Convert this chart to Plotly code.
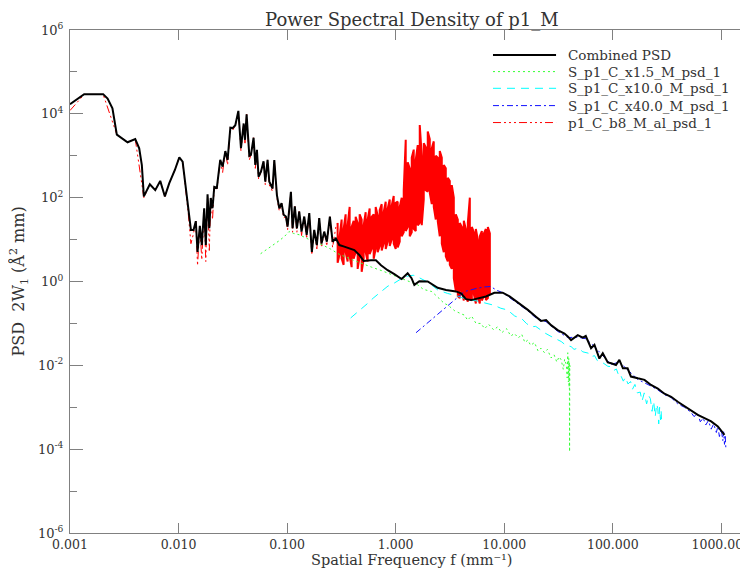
import plotly.graph_objects as go

# ---- data (frequency in mm^-1, PSD in A^2 mm) ----
comb_f = [0.001, 0.00135, 0.00202, 0.00222, 0.00246, 0.0027, 0.00339, 0.00399, 0.00434, 0.00459,
          0.00479, 0.00544, 0.0061, 0.00678, 0.00748, 0.0082, 0.00925, 0.01016, 0.0109, 0.01167,
          0.01228, 0.0130, 0.01374, 0.01442, 0.01496, 0.0157, 0.01637, 0.01722, 0.01782, 0.0185,
          0.0192, 0.0198, 0.02056, 0.02133, 0.02254, 0.0242, 0.02547, 0.02698, 0.02831, 0.0300,
          0.03148, 0.03334, 0.03556, 0.03758, 0.03981, 0.04093, 0.04236, 0.04487, 0.04645, 0.04911,
          0.05093, 0.05272, 0.05458, 0.05741, 0.06067, 0.06295, 0.06607, 0.06855, 0.07345, 0.07621,
          0.08054, 0.08472, 0.08892, 0.09289, 0.0975, 0.101, 0.1084, 0.1122, 0.1178, 0.123,
          0.1294, 0.1358, 0.1439, 0.1514, 0.160, 0.169, 0.1778, 0.1879, 0.1977, 0.2075,
          0.2198, 0.2323, 0.2477, 0.2624, 0.2812, 0.3027, 0.3365, 0.3741, 0.4159, 0.4624,
          0.507, 0.5916, 0.6577, 0.7328, 0.8433, 0.9727, 1.135, 1.29, 1.40, 1.486,
          1.652, 1.972, 2.438, 2.911, 3.597, 4.0, 4.446, 4.943, 5.70, 6.79,
          8.11, 9.68, 11.2, 13.8, 16.5, 19.6, 21.8, 24.3, 27.0, 31.1,
          35.9, 38.5, 41.3, 47.6, 53.0, 56.4, 63.1, 67.8, 75.3, 80.9,
          90.0, 96.6, 107, 115, 124, 137, 147, 170, 196, 225,
          260, 299, 345, 397, 458, 527, 607, 700, 806, 929,
          1032, 1069]
comb_psd = [1.7e4, 2.95e4, 2.95e4, 2.3e4, 1.35e4, 3.2e3, 2.1e3, 2.5e3, 1.5e3, 600,
            107, 209, 151, 251, 107, 219, 457, 912, 724, 166,
            42.7, 17, 17, 27.5, 5.1, 21.4, 7.4, 56, 7.4, 120,
            18.6, 98, 56, 182, 174, 794, 550, 1290, 794, 4680,
            4570, 5370, 11750, 1510, 5890, 2400, 9770, 1000, 1050, 2690,
            603, 1380, 316, 417, 741, 240, 794, 240, 166, 794,
            115, 56, 74, 39, 35.5, 20.4, 138, 18.6, 61.7, 18.6,
            46.8, 15.5, 35.5, 12.9, 42.7, 5.1, 17, 7.4, 32.4, 8.1,
            15.5, 8.9, 35.5, 8.9, 10.7, 7.4, 6.8, 6.2, 5.6, 4.3,
            3.1, 3.2, 3.2, 2.45, 1.86, 1.5, 1.15, 1.58, 1.2, 0.83,
            1.02, 1.0, 0.71, 0.63, 0.58, 0.52, 0.38, 0.36, 0.40, 0.44,
            0.54, 0.54, 0.44, 0.30, 0.21, 0.145, 0.115, 0.12, 0.091, 0.069,
            0.0575, 0.049, 0.040, 0.0525, 0.0457, 0.050, 0.0257, 0.031, 0.0145, 0.0195,
            0.0117, 0.0112, 0.0102, 0.0135, 0.0085, 0.0085, 0.0054, 0.0049, 0.0045, 0.0034,
            0.0028, 0.0021, 0.00178, 0.00135, 0.00105, 0.00081, 0.00066, 0.00055, 0.00046, 0.00035,
            0.00025, 0.00022]

x15_f = [0.057, 0.065, 0.075, 0.085, 0.095, 0.104, 0.115, 0.13, 0.16, 0.2,
         0.25, 0.3, 0.4, 0.5, 0.6, 0.75, 0.9, 1.1, 1.3, 1.45,
         1.6, 1.8, 2.0, 2.15, 2.5, 2.8, 3.02, 3.5, 4.0, 4.3,
         4.6, 5.0, 5.5, 6.1, 6.6, 7.2, 8.0, 8.7, 9.5, 10.5,
         11.5, 12.4, 13.5, 14.5, 15.5, 16.5, 17.5, 19, 20.5, 21.8,
         23.5, 25, 27, 28.8, 30.5, 32, 33.5, 35, 36, 37.4,
         38, 38.5, 39, 39.3, 39.6, 39.8, 40.0, 40.2, 40.5, 40.8]
x15_psd = [4.6, 5.8, 7.4, 9.5, 12, 15.5, 14, 13, 10, 8,
           6, 4.5, 3.3, 2.6, 2.2, 1.8, 1.5, 1.2, 1.0, 0.9,
           0.83, 0.65, 0.6, 0.575, 0.4, 0.3, 0.275, 0.2, 0.17, 0.158,
           0.12, 0.15, 0.1, 0.1, 0.075, 0.095, 0.07, 0.083, 0.06, 0.075,
           0.05, 0.0575, 0.045, 0.055, 0.035, 0.040, 0.03, 0.035, 0.022, 0.0257,
           0.02, 0.024, 0.015, 0.0178, 0.012, 0.016, 0.0135, 0.008, 0.014, 0.0102,
           0.005, 0.02, 0.004, 0.015, 0.003, 0.012, 8.7e-5, 0.01, 0.0035, 0.008]

x10_f = [0.385, 0.45, 0.497, 0.56, 0.62, 0.70, 0.78, 0.85, 0.92, 1.0,
         1.1, 1.2, 1.3, 1.45, 1.55, 1.65, 1.8, 2.0, 2.44, 3.0,
         3.7, 4.5, 5.7, 6.8, 8.1, 9.3, 10.7, 12.5, 14.5, 16,
         17.7, 19.5, 21.8, 24, 27, 30, 33.5, 37, 41.3, 44,
         48, 53, 59.6, 63, 68, 72, 77.8, 83, 90, 96,
         102, 108, 114, 118, 125, 131, 138, 146, 152, 160,
         168, 179, 186, 195, 205, 214, 222, 230, 238, 246,
         254, 260, 265, 270, 275, 279, 283]
x10_psd = [0.135, 0.19, 0.23, 0.31, 0.40, 0.52, 0.66, 0.78, 0.84, 0.98,
           1.12, 1.26, 1.35, 1.41, 1.35, 1.23, 1.1, 0.95, 0.63, 0.52,
           0.45, 0.38, 0.34, 0.30, 0.27, 0.23, 0.21, 0.15, 0.13, 0.10,
           0.083, 0.085, 0.069, 0.058, 0.049, 0.043, 0.037, 0.03, 0.028, 0.024,
           0.026, 0.021, 0.0195, 0.016, 0.017, 0.013, 0.0123, 0.011, 0.0095, 0.0093,
           0.0075, 0.0082, 0.0055, 0.0059, 0.0042, 0.0052, 0.0036, 0.0041, 0.0027, 0.0035,
           0.0022, 0.0023, 0.0014, 0.0022, 0.0012, 0.0019, 0.0016, 0.0008, 0.0014, 0.0006,
           0.0012, 0.00093, 0.0004, 0.001, 0.0005, 0.0008, 0.00038]

x40_f = [1.54, 2.0, 2.5, 3.0, 3.6, 4.3, 5.5, 6.5, 7.5, 8.5,
         9.7, 11.2, 13.8, 16.5, 19.6, 24.3, 31, 38.5, 47.6, 56.4,
         67.8, 80.9, 96.6, 115, 137, 170, 225, 260, 299, 345,
         397, 458, 527, 560, 607, 640, 680, 720, 760, 806,
         850, 900, 929, 960, 1000, 1032, 1050, 1069, 1085, 1100]
x40_psd = [0.060, 0.107, 0.175, 0.26, 0.39, 0.575, 0.68, 0.74, 0.76, 0.62,
           0.54, 0.42, 0.28, 0.2, 0.135, 0.11, 0.065, 0.046, 0.047, 0.043,
           0.028, 0.017, 0.0105, 0.012, 0.0078, 0.0046, 0.0032, 0.0026, 0.002, 0.0017,
           0.0012, 0.001, 0.00075, 0.0006, 0.0007, 0.00045, 0.00055, 0.00038, 0.00048, 0.0003,
           0.0004, 0.00025, 0.00035, 0.0002, 0.0003, 0.00016, 0.00026, 0.00013, 0.00022, 0.00011]

b8_f = [0.001, 0.00135, 0.00202, 0.0027, 0.00339, 0.00399, 0.00479, 0.00544, 0.0061, 0.00678,
        0.00748, 0.0082, 0.00925, 0.01016, 0.0109, 0.01167, 0.01228, 0.0130, 0.01374, 0.01442,
        0.01496, 0.0157, 0.01637, 0.01722, 0.01782, 0.0185, 0.0192, 0.0198, 0.02056, 0.02133,
        0.02254, 0.0242, 0.02547, 0.02698, 0.02831, 0.0300, 0.03148, 0.03334, 0.03556, 0.03758,
        0.03981, 0.04093, 0.04236, 0.04487, 0.04645, 0.04911, 0.05093, 0.05272, 0.05458, 0.05741,
        0.06067, 0.06295, 0.06607, 0.06855, 0.07345, 0.07621, 0.08054, 0.08472, 0.08892, 0.09289,
        0.0975, 0.101, 0.1084, 0.1122, 0.1178, 0.123, 0.1294, 0.1358, 0.1439, 0.1514,
        0.160, 0.169, 0.1778, 0.1879, 0.1977, 0.2075, 0.2198, 0.2323, 0.2477, 0.2624,
        0.2812]
b8_psd = [1.2e4, 2.9e4, 2.9e4, 3.2e3, 2.1e3, 2.5e3, 100, 209, 151, 251,
          107, 219, 457, 912, 724, 166, 42.7, 8.0, 14, 27.5,
          2.4, 21, 3.3, 50, 3.0, 110, 5.5, 98, 30, 182,
          150, 794, 400, 1290, 600, 4680, 4000, 5370, 11750, 1300,
          5890, 2000, 9770, 800, 1050, 2690, 500, 1380, 280, 417,
          741, 200, 794, 200, 140, 794, 100, 48, 74, 33,
          35.5, 17, 138, 15, 61.7, 15, 46.8, 12.5, 35.5, 10.5,
          42.7, 4.3, 17, 6.0, 32.4, 6.5, 15.5, 7.0, 35.5, 6.5,
          20]

# noisy part of p1_C_b8: upper / lower extent of the scatter at each frequency
band_f = [0.292, 0.3047, 0.3179, 0.3317, 0.3461, 0.3611, 0.3768, 0.3931, 0.4102, 0.4280,
          0.4466, 0.4660, 0.4862, 0.5073, 0.5293, 0.5523, 0.5762, 0.6012, 0.6273, 0.6546,
          0.6830, 0.7126, 0.7435, 0.7758, 0.8095, 0.8446, 0.8813, 0.9195, 0.9594, 1.0011,
          1.0445, 1.0899, 1.1372, 1.1866, 1.2381, 1.2918, 1.3479, 1.4064, 1.4674, 1.5311,
          1.5976, 1.6669, 1.7393, 1.8148, 1.8936, 1.9757, 2.0615, 2.1510, 2.2443, 2.3418,
          2.4434, 2.5495, 2.6601, 2.7756, 2.8961, 3.0218, 3.1529, 3.2898, 3.4326, 3.5815,
          3.7370, 3.8992, 4.0684, 4.2450, 4.4293, 4.6215, 4.8221, 5.0314, 5.2498, 5.4777,
          5.7154, 5.9635, 6.2223, 6.4924, 6.7742, 7.0682, 7.3750]
band_hi = [25, 12, 30, 18, 40, 22, 60, 20, 28, 35,
           25, 40, 30, 22, 45, 30, 55, 35, 40, 60,
           38, 50, 70, 45, 80, 55, 90, 65, 110, 75,
           80, 60, 100, 150, 2400, 700, 500, 900, 1400, 800,
           1800, 5400, 1000, 2000, 1600, 3800, 2500, 1500, 2200, 1000,
           900, 1300, 900, 600, 500, 300, 250, 200, 100, 40,
           30, 25, 20, 28, 18, 25, 100, 20, 15, 18,
           10, 12, 16, 14, 18, 20, 14]
band_lo = [2.8, 4.5, 3.5, 2.5, 5, 3, 4, 2.2, 3.5, 5,
           2.0, 4, 1.7, 3.5, 5, 3, 4.5, 6, 3.5, 6,
           5, 7, 5.5, 8, 6, 9, 7, 10, 8, 6,
           6.5, 9, 12, 15, 16, 20, 12, 15, 18, 16,
           22, 25, 22, 90, 150, 140, 130, 70, 60, 30,
           27, 12, 8, 5, 4, 3, 2.5, 2.0, 1.2, 0.6,
           0.45, 0.4, 0.6, 0.35, 0.45, 0.33, 0.4, 0.35, 0.5, 0.3,
           0.4, 0.3, 0.35, 0.45, 0.36, 0.4, 0.5]

series_names = ["Combined PSD", "S_p1_C_x1.5_M_psd_1", "S_p1_C_x10.0_M_psd_1",
                "S_p1_C_x40.0_M_psd_1", "p1_C_b8_M_al_psd_1"]
colors = ["#000000", "#33ff33", "#00ffff", "#1010ff", "#ff0000"]
dashes = ["solid", "2px,3px", "8px,6px", "6px,3px,2px,3px", "8px,3px,2px,3px,2px,3px,2px,3px"]
widths = [2, 1, 1, 1, 1]

x_vals = [0.001, 0.01, 0.1, 1, 10, 100, 1000]
x_text = ["0.001", "0.010", "0.100", "1.000", "10.000", "100.000", "1000.000"]
y_vals = [1e-6, 1e-4, 1e-2, 1, 1e2, 1e4, 1e6]
y_text = ["10<sup>-6</sup>", "10<sup>-4</sup>", "10<sup>-2</sup>", "10<sup>0</sup>",
          "10<sup>2</sup>", "10<sup>4</sup>", "10<sup>6</sup>"]
y_minor = [1e-5, 1e-3, 1e-1, 1e1, 1e3, 1e5]

# noisy band of the red curve drawn as a dense zigzag between its extents
band_x, band_y = [], []
for i, f in enumerate(band_f):
    pair = (band_hi[i], band_lo[i]) if i % 2 == 0 else (band_lo[i], band_hi[i])
    band_x += [f, f]
    band_y += list(pair)

FONT = "DejaVu Serif"
TXT = "#333333"
AX = "#808080"

fig = go.Figure()


def add_line(xs, ys, k, dash=None, width=None):
    fig.add_trace(go.Scatter(x=xs, y=ys, mode="lines", name=series_names[k],
                             line=dict(color=colors[k], width=width or widths[k],
                                       dash=dash or dashes[k]),
                             showlegend=False))


add_line(b8_f + band_f[:1], b8_psd + band_hi[:1], 4)
add_line(band_x, band_y, 4, dash="solid", width=2)
add_line(x15_f, x15_psd, 1)
add_line(x10_f, x10_psd, 2)
add_line(x40_f, x40_psd, 3)
add_line(comb_f, comb_psd, 0)

# legend drawn by hand (long line samples, no frame)
leg_y = [0.9503, 0.9173, 0.8841, 0.8497, 0.816]
for k, name in enumerate(series_names):
    fig.add_shape(type="line", xref="paper", yref="paper", x0=0.6184, x1=0.7106,
                  y0=leg_y[k], y1=leg_y[k],
                  line=dict(color=colors[k], width=widths[k], dash=dashes[k]))
    fig.add_annotation(xref="paper", yref="paper", x=0.7255, y=leg_y[k], text=name,
                       showarrow=False, xanchor="left", yanchor="middle",
                       font=dict(family=FONT, size=13.5, color=TXT))

# axis titles placed as annotations so they sit where the reference has them
fig.add_annotation(xref="paper", yref="paper", x=0.5, y=-0.0545,
                   text="Spatial Frequency f (mm\u207b\u00b9)", showarrow=False,
                   xanchor="center", yanchor="middle", borderpad=0,
                   font=dict(family=FONT, size=14.5, color=TXT))
fig.add_annotation(xref="paper", yref="paper", x=-0.0746, y=0.5,
                   text="PSD  2W<sub>1</sub> (Å<sup>2</sup> mm)", showarrow=False,
                   textangle=-90, xanchor="center", yanchor="middle",
                   font=dict(family=FONT, size=16, color=TXT))

fig.update_layout(
    width=748, height=568,
    margin=dict(l=62, r=2, t=22, b=43, autoexpand=False),
    paper_bgcolor="white", plot_bgcolor="white",
    font=dict(family=FONT, size=13, color=TXT),
    title=dict(text="Power Spectral Density of p1_M", x=0.54, xanchor="center",
               y=0.98, yanchor="middle", font=dict(family=FONT, size=18, color=TXT)),
    xaxis=dict(type="log", range=[-3, 3.301], tickvals=x_vals, ticktext=x_text,
               tickfont=dict(family=FONT, size=12.5, color=TXT),
               ticks="inside", ticklen=10, tickcolor=AX, tickwidth=1,
               showline=True, linecolor=AX, linewidth=1, mirror="ticks",
               showgrid=False, zeroline=False, automargin=False, ticklabelstandoff=0),
    yaxis=dict(type="log", range=[-6, 6], tickvals=y_vals, ticktext=y_text,
               ticks="inside", ticklen=13, tickcolor=AX, tickwidth=1,
               minor=dict(tickvals=y_minor, ticks="inside", ticklen=7, tickcolor=AX),
               showline=True, linecolor=AX, linewidth=1, mirror="ticks",
               showgrid=False, zeroline=False, automargin=False, ticklabelstandoff=3),
)

fig.write_html("out.html")
